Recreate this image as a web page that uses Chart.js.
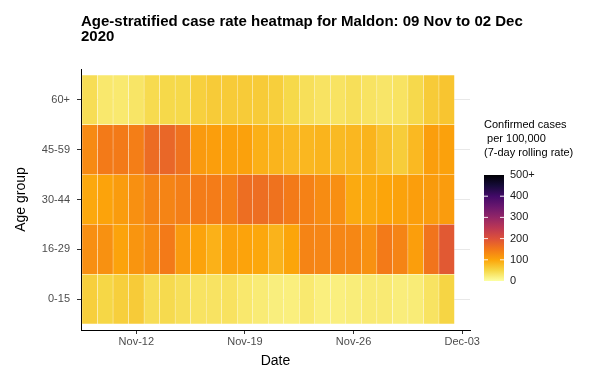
<!DOCTYPE html>
<html>
<head>
<meta charset="utf-8">
<script src="https://cdn.jsdelivr.net/npm/chart.js@4.4.0/dist/chart.umd.min.js"></script>
<style>
  html, body { margin: 0; padding: 0; background: #fff; }
  #wrap { width: 589px; height: 372px; position: relative; }
</style>
</head>
<body>
<div id="wrap"><canvas id="heatmap"></canvas></div>
<script>
// dates in the window (one tile per day)
const dates = ['2020-11-09','2020-11-10','2020-11-11','2020-11-12','2020-11-13','2020-11-14',
  '2020-11-15','2020-11-16','2020-11-17','2020-11-18','2020-11-19','2020-11-20',
  '2020-11-21','2020-11-22','2020-11-23','2020-11-24','2020-11-25','2020-11-26',
  '2020-11-27','2020-11-28','2020-11-29','2020-11-30','2020-12-01','2020-12-02'];

const ageGroups = ['0-15', '16-29', '30-44', '45-59', '60+'];

// 7-day rolling rate per 100,000
const rate_0_15   = [58, 50, 58, 62, 42, 46, 40, 35, 35, 36, 29, 25, 21, 20, 28, 20, 20, 23, 26, 26, 22, 24, 35, 52];
const rate_16_29  = [125, 122, 102, 118, 128, 148, 112, 102, 88, 105, 102, 98, 86, 100, 137, 135, 135, 133, 122, 148, 137, 108, 155, 190];
const rate_30_44  = [97, 102, 110, 123, 137, 137, 142, 146, 146, 142, 163, 163, 158, 148, 140, 128, 125, 95, 95, 100, 103, 108, 110, 110];
const rate_45_59  = [130, 148, 148, 143, 165, 172, 158, 112, 108, 105, 105, 89, 85, 80, 82, 85, 79, 82, 85, 71, 60, 80, 108, 105];
const rate_60plus = [42, 29, 28, 33, 45, 48, 48, 57, 62, 62, 62, 62, 58, 48, 40, 35, 35, 40, 35, 32, 35, 47, 62, 68];

const tickDates = ['2020-11-12', '2020-11-19', '2020-11-26', '2020-12-03'];
const tickLabels = ['Nov-12', 'Nov-19', 'Nov-26', 'Dec-03'];

const legendTicks = [0, 100, 200, 300, 400, 500];
const legendLabels = ['0', '100', '200', '300', '400', '500+'];
const legendTitle = ['Confirmed cases', ' per 100,000', '(7-day rolling rate)'];
const titleLines = ['Age-stratified case rate heatmap for Maldon: 09 Nov to 02 Dec', '2020'];

const rows = [rate_0_15, rate_16_29, rate_30_44, rate_45_59, rate_60plus];

// reversed inferno, 0 -> 500
const inferno = ['#FCFFA4','#F6D746','#FCA50A','#F37819','#DD513A','#BC3754',
                 '#932667','#6A176E','#420A68','#160B39','#000004'];
const FONT = "'Liberation Sans', Arial, sans-serif";

function hexRgb(h) {
  return [parseInt(h.substr(1, 2), 16), parseInt(h.substr(3, 2), 16), parseInt(h.substr(5, 2), 16)];
}
function rateColour(v) {
  const t = Math.max(0, Math.min(1, v / 500)) * (inferno.length - 1);
  const i = Math.min(Math.floor(t), inferno.length - 2);
  const f = t - i;
  const a = hexRgb(inferno[i]), b = hexRgb(inferno[i + 1]);
  const c = a.map((x, k) => Math.round(x + (b[k] - x) * f));
  return 'rgb(' + c.join(',') + ')';
}
function dayOffset(d) {
  return Math.round((Date.parse(d) - Date.parse(dates[0])) / 86400000);
}

const datasets = rows.map((vals, r) => ({
  label: ageGroups[r],
  data: vals.map((v, i) => ({ x: dayOffset(dates[i]), y: [r, r + 1] })),
  backgroundColor: vals.map(rateColour),
  borderColor: 'rgba(255,255,255,0.3)',
  borderWidth: 0.5,
  borderSkipped: false,
  grouped: false,
  barPercentage: 1,
  categoryPercentage: 1
}));

const titlePlugin = {
  id: 'plotTitle',
  afterDraw(chart) {
    const ctx = chart.ctx;
    ctx.save();
    ctx.fillStyle = '#000';
    ctx.font = 'bold 15px ' + FONT;
    ctx.textBaseline = 'alphabetic';
    ctx.textAlign = 'left';
    titleLines.forEach((t, i) => ctx.fillText(t, 81, 26 + i * 14.5));
    ctx.restore();
  }
};

const colourBar = {
  id: 'colourBar',
  afterDraw(chart) {
    const ctx = chart.ctx;
    const x0 = 484, w = 20, yTop = 175, yBot = 281;
    ctx.save();
    ctx.fillStyle = '#000';
    ctx.font = '11px ' + FONT;
    ctx.textBaseline = 'middle';
    ctx.textAlign = 'left';
    legendTitle.forEach((t, i) => ctx.fillText(t, x0, 125 + i * 14));

    const g = ctx.createLinearGradient(0, yBot, 0, yTop);
    inferno.forEach((c, i) => g.addColorStop(i / (inferno.length - 1), c));
    ctx.fillStyle = g;
    ctx.fillRect(x0, yTop, w, yBot - yTop);

    ctx.strokeStyle = 'rgba(255,255,255,0.9)';
    ctx.lineWidth = 1;
    ctx.fillStyle = '#1a1a1a';
    legendTicks.forEach((v, i) => {
      const y = yBot - (v / 500) * (yBot - yTop);
      if (v > 0 && v < 500) {
        ctx.beginPath();
        ctx.moveTo(x0, y); ctx.lineTo(x0 + 4, y);
        ctx.moveTo(x0 + w - 4, y); ctx.lineTo(x0 + w, y);
        ctx.stroke();
      }
      ctx.fillText(legendLabels[i], x0 + w + 6, y);
    });
    ctx.restore();
  }
};

new Chart(document.getElementById('heatmap'), {
  type: 'bar',
  data: { datasets: datasets },
  options: {
    responsive: true,
    maintainAspectRatio: false,
    animation: false,
    layout: { padding: { top: 69, right: 119, bottom: 0, left: 0 } },
    plugins: { legend: { display: false }, tooltip: { enabled: false } },
    scales: {
      x: {
        type: 'linear',
        offset: false,
        min: -0.565,
        max: 24.5,
        afterBuildTicks: (s) => { s.ticks = tickDates.map(d => ({ value: dayOffset(d) })); },
        afterFit: (s) => { s.height = 42; },
        ticks: {
          callback: (v, i) => tickLabels[i],
          color: '#4d4d4d',
          font: { family: FONT, size: 11 },
          padding: 1,
          maxRotation: 0,
          autoSkip: false
        },
        grid: { display: true, drawOnChartArea: false, offset: false, tickLength: 4, tickColor: '#333' },
        border: { display: true, color: '#000', width: 1 },
        title: {
          display: true, text: 'Date', color: '#000',
          font: { family: FONT, size: 14 }, padding: { top: 0, bottom: 2 }
        }
      },
      y: {
        type: 'linear',
        min: -0.12,
        max: 5.12,
        afterBuildTicks: (s) => { s.ticks = ageGroups.map((a, i) => ({ value: i + 0.5 })); },
        afterFit: (s) => { s.width = 81; },
        ticks: {
          callback: (v) => ageGroups[Math.floor(v)],
          color: '#4d4d4d',
          font: { family: FONT, size: 11 },
          padding: 7,
          autoSkip: false
        },
        grid: { color: '#e8e8e8', lineWidth: 1, tickLength: 4, tickColor: '#333' },
        border: { display: true, color: '#000', width: 1 },
        title: {
          display: true, text: 'Age group', color: '#000',
          font: { family: FONT, size: 14 }, padding: { top: 13, bottom: 0 }
        }
      }
    }
  },
  plugins: [titlePlugin, colourBar]
});
</script>
</body>
</html>
